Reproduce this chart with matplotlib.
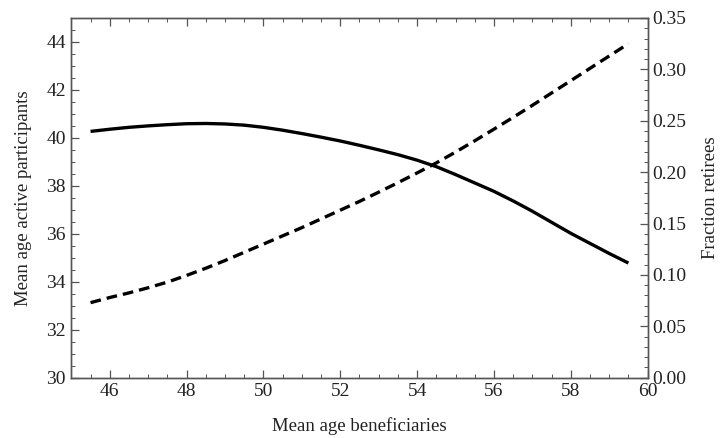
import numpy as np
import matplotlib
matplotlib.use("Agg")
import matplotlib.pyplot as plt
from matplotlib.ticker import MultipleLocator, FormatStrFormatter

plt.rcParams['font.family'] = ['Liberation Serif', 'DejaVu Serif']

# mean age of beneficiaries (x)
age_ben = [45.5, 46, 46.5, 47, 47.5, 48, 48.5, 49, 49.5, 50, 50.5, 51, 51.5,
           52, 52.5, 53, 53.5, 54, 54.5, 55, 55.5, 56, 56.5, 57, 57.5, 58,
           58.5, 59, 59.5]
# mean age active participants (left axis, solid)
age_active = [40.27, 40.36, 40.44, 40.50, 40.55, 40.59, 40.60, 40.58, 40.53,
              40.44, 40.32, 40.18, 40.03, 39.87, 39.69, 39.50, 39.30, 39.07,
              38.80, 38.47, 38.12, 37.77, 37.37, 36.94, 36.48, 36.02, 35.60,
              35.18, 34.78]
# fraction retirees (right axis, dashed)
frac_ret = [0.073, 0.078, 0.0825, 0.0875, 0.093, 0.0995, 0.1065, 0.114, 0.122,
            0.130, 0.138, 0.146, 0.1545, 0.163, 0.1715, 0.1805, 0.1897, 0.1992,
            0.209, 0.2195, 0.2305, 0.2418, 0.2533, 0.265, 0.277, 0.289, 0.301,
            0.313, 0.325]

spine_col = "#555555"
text_col = "#222222"

fig = plt.figure(figsize=(7.22, 4.38), dpi=100)
ax = fig.add_axes([0.0988, 0.1377, 0.7982, 0.8213])
ax2 = ax.twinx()

ax.plot(age_ben, age_active, color="black", lw=2.4, solid_capstyle="butt",
        solid_joinstyle="round")
ax2.plot(age_ben, frac_ret, color="black", lw=2.4, dashes=(3.2, 1.8),
         dash_capstyle="butt")

ax.set_xlim(45, 60)
ax.set_ylim(30, 45)
ax2.set_ylim(0, 0.35)

ax.set_xticks(np.arange(46, 61, 2))
ax.xaxis.set_minor_locator(MultipleLocator(0.5))
ax.yaxis.set_major_locator(MultipleLocator(2))
ax.yaxis.set_minor_locator(MultipleLocator(0.5))
ax2.yaxis.set_major_locator(MultipleLocator(0.05))
ax2.yaxis.set_minor_locator(MultipleLocator(0.01))
ax2.yaxis.set_major_formatter(FormatStrFormatter("%.2f"))

for a in (ax, ax2):
    for s in a.spines.values():
        s.set_color(spine_col)
        s.set_linewidth(1.0)

ax.tick_params(axis="both", which="both", direction="in", colors=spine_col,
               labelcolor=text_col, labelsize=14, top=True, pad=4)
ax.tick_params(axis="y", right=False)
ax.tick_params(which="major", length=6, width=0.9)
ax.tick_params(which="minor", length=3, width=0.7)
ax2.tick_params(axis="y", which="both", direction="in", colors=spine_col,
                labelcolor=text_col, labelsize=14, pad=3)
ax2.tick_params(which="major", length=6, width=0.9)
ax2.tick_params(which="minor", length=3, width=0.7)

ax.set_xlabel("Mean age beneficiaries", fontsize=13.5, color=text_col)
ax.set_ylabel("Mean age active participants", fontsize=13.5, color=text_col)
ax2.set_ylabel("Fraction retirees", fontsize=13.5, color=text_col)
ax.xaxis.set_label_coords(0.5, -0.11)
ax.yaxis.set_label_coords(-0.068, 0.5)
ax2.yaxis.set_label_coords(1.094, 0.5)

fig.savefig("out.png", dpi=100)
